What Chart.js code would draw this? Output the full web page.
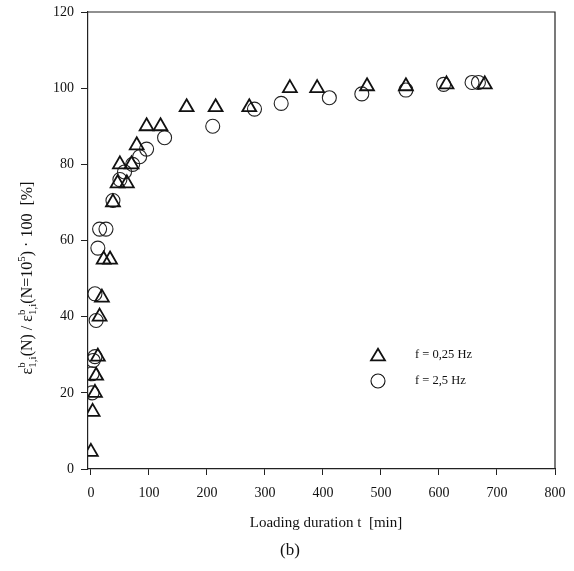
<!DOCTYPE html>
<html>
<head>
<meta charset="utf-8">
<script src="https://cdn.jsdelivr.net/npm/chart.js@4"></script>
<style>
html,body{margin:0;padding:0;background:#fff;}
#wrap{width:574px;height:571px;position:relative;}
</style>
</head>
<body>
<div id="wrap"><canvas id="c" width="574" height="571"></canvas></div>
<script>
const seriesLabels = ['f = 0,25 Hz', 'f = 2,5 Hz'];
const xTicks = [0, 100, 200, 300, 400, 500, 600, 700, 800];
const yTicks = [0, 20, 40, 60, 80, 100, 120];
const triT = [0, 3, 7, 9, 12, 15, 19, 22, 33, 38, 46, 62, 50, 70, 79, 96, 120, 165, 215, 273, 343, 390, 476, 543, 613, 679];
const triV = [4.5, 15, 20, 24.5, 29.5, 40, 45, 55, 55, 70, 75, 75, 80, 80, 85, 90, 90, 95, 95, 95, 100, 100, 100.5, 100.5, 101, 101];
const cirT = [2, 2, 4, 7, 9, 7, 12, 15, 26, 38, 50, 58, 72, 84, 96, 127, 210, 282, 328, 411, 467, 543, 608, 657, 668];
const cirV = [20, 25, 28.5, 29.5, 39, 46, 58, 63, 63, 70.5, 76, 78, 80, 82, 84, 87, 90, 94.5, 96, 97.5, 98.5, 99.5, 101, 101.5, 101.5];
const xTitle = 'Loading duration t  [min]';
const caption = '(b)';

const serif = '"Liberation Serif", "DejaVu Serif", serif';
const toPts = (xs, ys) => xs.map((x, i) => ({x: x, y: ys[i]}));

const framePlugin = {
  id: 'frame',
  afterDraw(chart) {
    const {ctx, chartArea: a} = chart;
    ctx.save();
    ctx.strokeStyle = '#222';
    ctx.lineWidth = 1.2;
    ctx.beginPath();
    ctx.moveTo(a.left, a.top); ctx.lineTo(a.right, a.top); ctx.lineTo(a.right, a.bottom);
    ctx.stroke();
    // legend
    ctx.fillStyle = '#111';
    ctx.font = '12.5px ' + serif;
    ctx.textBaseline = 'middle';
    ctx.textAlign = 'left';
    ctx.lineWidth = 1.8;
    ctx.strokeStyle = '#111';
    const tx = 378, ty = 356, r = 8;
    ctx.beginPath();
    ctx.moveTo(tx, ty - r * 0.9);
    ctx.lineTo(tx + r * 0.87, ty + r * 0.55);
    ctx.lineTo(tx - r * 0.87, ty + r * 0.55);
    ctx.closePath(); ctx.stroke();
    ctx.lineWidth = 1.1;
    ctx.beginPath(); ctx.arc(378, 381, 7, 0, Math.PI * 2); ctx.stroke();
    ctx.fillText(seriesLabels[0], 415, 355);
    ctx.fillText(seriesLabels[1], 415, 381);
    // x title and caption
    ctx.textAlign = 'center';
    ctx.font = '15px ' + serif;
    ctx.fillText(xTitle, 326, 523);
    ctx.font = '17px ' + serif;
    ctx.fillText(caption, 290, 551);
    // y title rotated with sub/superscripts
    ctx.save();
    ctx.translate(28, 278);
    ctx.rotate(-Math.PI / 2);
    const parts = [
      ['ε', 16, 0], ['b', 11, -6, true], ['1,i', 11, 5], ['(N) / ε', 16, 0], ['b', 11, -6, true], ['1,i', 11, 5],
      ['(N=10', 16, 0], ['5', 11, -6], [') · 100  [%]', 16, 0]
    ];
    const widths = parts.map(p => { ctx.font = p[1] + 'px ' + serif; return ctx.measureText(p[0]).width; });
    const pos = [];
    let cur = 0, lastSupW = 0;
    parts.forEach((p, i) => {
      pos.push(cur);
      if (p[3]) { lastSupW = widths[i]; }
      else if (i > 0 && parts[i - 1][3]) { cur += Math.max(widths[i], lastSupW); }
      else { cur += widths[i]; }
    });
    const total = cur;
    ctx.textAlign = 'left';
    parts.forEach((p, i) => {
      ctx.font = p[1] + 'px ' + serif;
      ctx.fillText(p[0], pos[i] - total / 2, p[2]);
    });
    ctx.restore();
    ctx.restore();
  }
};

new Chart(document.getElementById('c'), {
  type: 'scatter',
  data: {
    datasets: [
      {
        label: seriesLabels[0],
        data: toPts(triT, triV),
        pointStyle: 'triangle',
        radius: 8,
        borderColor: '#111',
        borderWidth: 1.8,
        backgroundColor: 'rgba(0,0,0,0)'
      },
      {
        label: seriesLabels[1],
        data: toPts(cirT, cirV),
        pointStyle: 'circle',
        radius: 7,
        borderColor: '#222',
        borderWidth: 1.1,
        backgroundColor: 'rgba(0,0,0,0)'
      }
    ]
  },
  options: {
    responsive: false,
    animation: false,
    events: [],
    layout: {padding: {top: 12, right: 19, left: 0, bottom: 0}},
    plugins: {legend: {display: false}, tooltip: {enabled: false}},
    scales: {
      x: {
        type: 'linear', min: -5, max: 800,
        afterBuildTicks: s => { s.ticks = xTicks.map(v => ({value: v})); },
        afterFit: s => { s.height = 102; s.paddingLeft = 0; s.paddingRight = 0; },
        border: {display: true, color: '#222', width: 1.2},
        grid: {display: true, drawOnChartArea: false, drawTicks: true, tickLength: 6, color: '#222'},
        ticks: {color: '#111', font: {family: serif, size: 14}, padding: 10, maxRotation: 0, autoSkip: false}
      },
      y: {
        type: 'linear', min: 0, max: 120,
        afterBuildTicks: s => { s.ticks = yTicks.map(v => ({value: v})); },
        afterFit: s => { s.width = 88; s.paddingTop = 0; s.paddingBottom = 0; },
        border: {display: true, color: '#222', width: 1.2},
        grid: {display: true, drawOnChartArea: false, drawTicks: true, tickLength: 7, color: '#222'},
        ticks: {color: '#111', font: {family: serif, size: 14}, padding: 7, autoSkip: false}
      }
    }
  },
  plugins: [framePlugin]
});
</script>
</body>
</html>
